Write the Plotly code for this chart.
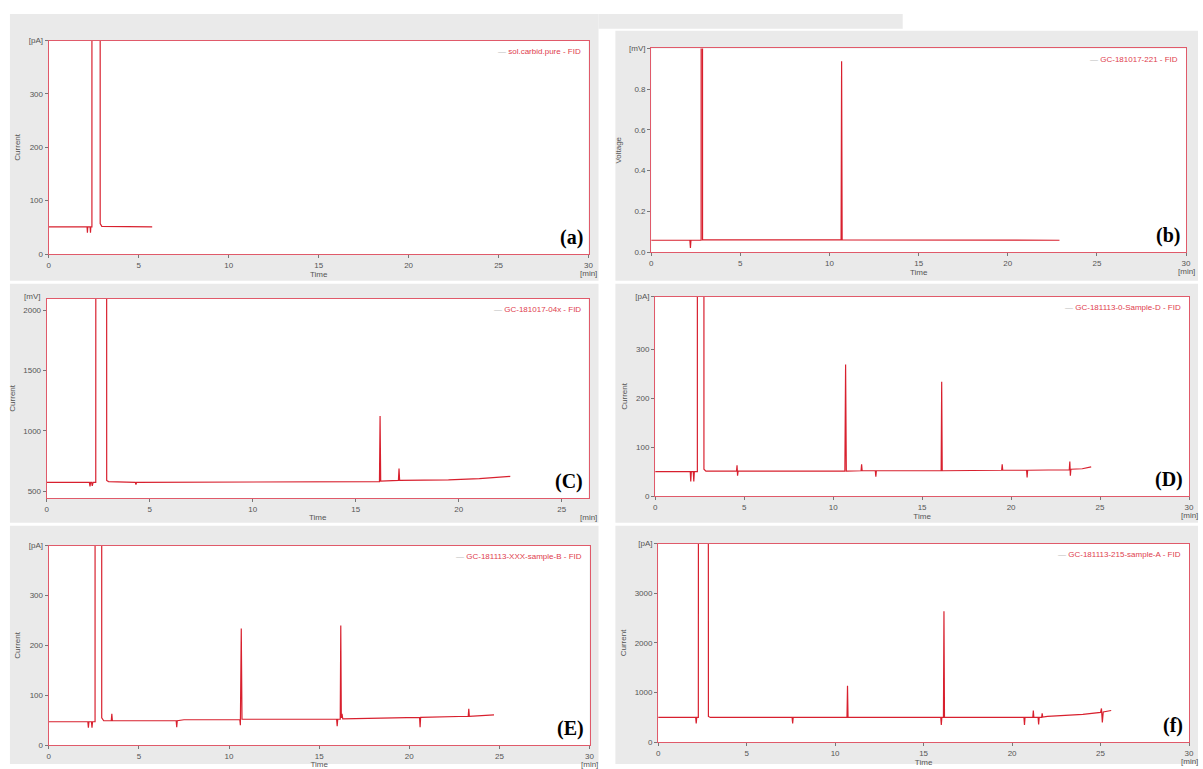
import plotly.graph_objects as go

W, H = 1203, 769

# ---------------- data ----------------
a_time = [0.0, 2.05, 2.13, 2.15, 2.17, 2.30, 2.32, 2.34, 2.40, 2.41, 2.85, 2.86, 2.95, 5.75]
a_val = [51, 51, 51, 40, 51, 51, 40, 51, 51, 5000, 5000, 57, 52, 51]

b_time = [0.0, 2.17, 2.20, 2.23, 2.80, 2.81, 2.87, 2.88, 10.65, 10.68, 10.71, 22.9]
b_val = [0.058, 0.058, 0.02, 0.058, 0.058, 5.0, 5.0, 0.06, 0.06, 0.937, 0.06, 0.058]

c_time = [0.0, 2.07, 2.10, 2.13, 2.18, 2.21, 2.25, 2.38, 2.39, 2.90, 2.91, 3.0, 4.30, 4.33, 4.36,
          14.5, 16.15, 16.18, 16.21, 17.07, 17.1, 17.13, 19.5, 21.0, 22.5]
c_val = [574, 574, 540, 574, 574, 545, 574, 574, 9000, 9000, 590, 580, 574, 555, 574,
         578, 580, 1123, 585, 590, 689, 590, 595, 605, 623]

d_time = [0.0, 1.97, 2.00, 2.03, 2.14, 2.17, 2.20, 2.37, 2.38, 2.73, 2.74, 2.85,
          4.57, 4.60, 4.63, 4.66,
          10.66, 10.70, 10.74, 11.57, 11.60, 11.63, 12.37, 12.40, 12.43, 16.07, 16.10, 16.13,
          19.47, 19.50, 19.53, 20.87, 20.90, 20.93, 23.27, 23.30, 23.33, 23.36, 24.0, 24.5]
d_val = [50, 50, 30, 50, 50, 30, 50, 50, 5000, 5000, 55, 51,
         51, 63, 42, 51,
         51, 269, 51, 52, 65, 52, 52, 40, 52, 52, 234, 52,
         53, 65, 53, 53, 38, 53, 54, 71, 42, 55, 56, 60]

e_time = [0.0, 2.17, 2.20, 2.23, 2.37, 2.40, 2.43, 2.57, 2.58, 2.93, 2.94, 3.05, 3.47, 3.50, 3.53,
          7.07, 7.10, 7.13, 7.5, 10.60, 10.63, 10.68, 10.72, 15.97, 16.00, 16.03, 16.17, 16.20,
          16.23, 16.27, 16.31, 18.5, 20.57, 20.60, 20.63, 23.27, 23.30, 23.33, 24.7]
e_val = [47, 47, 35, 47, 47, 35, 47, 47, 5000, 5000, 55, 49, 49, 63, 49,
         49, 36, 49, 51, 51, 40, 234, 52, 52, 38, 52, 52, 240, 55, 63, 53,
         55, 56, 36, 56, 58, 73, 58, 61]

f_time = [0.0, 2.12, 2.15, 2.18, 2.27, 2.28, 2.83, 2.84, 2.95, 7.57, 7.60, 7.63,
          10.67, 10.70, 10.73, 15.97, 16.00, 16.03, 16.12, 16.15, 16.18, 20.67, 20.70, 20.73,
          21.17, 21.20, 21.23, 21.47, 21.50, 21.53, 21.67, 21.70, 21.73,
          22.0, 24.0, 25.0, 25.05, 25.10, 25.15, 25.6]
f_val = [500, 500, 380, 500, 500, 9000, 9000, 520, 500, 500, 380, 500,
         500, 1140, 500, 500, 350, 500, 500, 2640, 500, 500, 350, 500,
         500, 640, 500, 500, 360, 500, 500, 580, 505,
         520, 560, 600, 680, 400, 610, 640]

panels = [
    dict(t=a_time, v=a_val, xr=[0, 30], xt=[0, 5, 10, 15, 20, 25, 30],
         yr=[0, 400], yt=[0, 100, 200, 300, 400], ytt=["0", "100", "200", "300", "[pA]"],
         ytitle="Current", name="sol.carbid.pure - FID", tag="(a)",
         box=(47, 590, 37, 253)),
    dict(t=b_time, v=b_val, xr=[0, 30], xt=[0, 5, 10, 15, 20, 25, 30],
         yr=[0, 1.0], yt=[0, 0.2, 0.4, 0.6, 0.8, 1.0], ytt=["0.0", "0.2", "0.4", "0.6", "0.8", "[mV]"],
         ytitle="Voltage", name="GC-181017-221 - FID", tag="(b)",
         box=(653, 1191, 45, 251)),
    dict(t=c_time, v=c_val, xr=[0, 26.3], xt=[0, 5, 10, 15, 20, 25],
         yr=[443, 2098], yt=[500, 1000, 1500, 2000], ytt=["500", "1000", "1500", "2000"],
         ytitle="Current", name="GC-181017-04x - FID", tag="(C)",
         box=(45, 590, 298, 500), unit="[mV]"),
    dict(t=d_time, v=d_val, xr=[0, 30], xt=[0, 5, 10, 15, 20, 25, 30],
         yr=[0, 408], yt=[0, 100, 200, 300, 408], ytt=["0", "100", "200", "300", "[pA]"],
         ytitle="Current", name="GC-181113-0-Sample-D - FID", tag="(D)",
         box=(657, 1194, 296, 498)),
    dict(t=e_time, v=e_val, xr=[0, 30], xt=[0, 5, 10, 15, 20, 25, 30],
         yr=[0, 400], yt=[0, 100, 200, 300, 400], ytt=["0", "100", "200", "300", "[pA]"],
         ytitle="Current", name="GC-181113-XXX-sample-B - FID", tag="(E)",
         box=(47, 591, 548, 750)),
    dict(t=f_time, v=f_val, xr=[0, 30], xt=[0, 5, 10, 15, 20, 25, 30],
         yr=[0, 4000], yt=[0, 1000, 2000, 3000, 4000], ytt=["0", "1000", "2000", "3000", "[pA]"],
         ytitle="Current", name="GC-181113-215-sample-A - FID", tag="(f)",
         box=(660, 1194, 546, 747)),
]

# gray panel backgrounds (pixel boxes)
bgs = [(8, 600, 10, 280), (8, 600, 283, 525), (8, 600, 528, 769),
       (600, 906, 10, 25), (617, 1203, 27, 280), (617, 1203, 283, 525), (617, 1203, 528, 769)]

RED = "#d8202e"
FRAME = "#e05a6a"
TXT = "#555555"

fig = go.Figure()
layout = dict(width=W, height=H, margin=dict(l=0, r=0, t=0, b=0),
              paper_bgcolor="white", plot_bgcolor="white", showlegend=False,
              font=dict(family="Liberation Sans, Arial, sans-serif", size=8, color=TXT))
shapes = []
for (x0, x1, y0, y1) in bgs:
    shapes.append(dict(type="rect", xref="paper", yref="paper", layer="below",
                       x0=x0 / W, x1=x1 / W, y0=1 - y1 / H, y1=1 - y0 / H,
                       fillcolor="#eaeaea", line=dict(width=0)))
for p in panels:
    x0, x1, y0, y1 = p["box"]
    shapes.append(dict(type="rect", xref="paper", yref="paper", layer="below",
                       x0=x0 / W, x1=x1 / W, y0=1 - y1 / H, y1=1 - y0 / H,
                       fillcolor="white", line=dict(width=0)))
annotations = []

for i, p in enumerate(panels, start=1):
    sx = "" if i == 1 else str(i)
    x0, x1, y0, y1 = p["box"]
    fig.add_trace(go.Scatter(x=p["t"], y=p["v"], mode="lines", xaxis="x" + sx, yaxis="y" + sx,
                             line=dict(color=RED, width=1.2), name=p["name"]))
    layout["xaxis" + sx] = dict(domain=[x0 / W, x1 / W], anchor="y" + sx, range=p["xr"],
                                tickvals=p["xt"], showline=True, mirror=True, linecolor=FRAME,
                                linewidth=1.2, showgrid=False, zeroline=False, ticks="outside",
                                ticklen=3, tickcolor="#777", tickfont=dict(size=8, color=TXT),
                                title=dict(text="Time", font=dict(size=8, color=TXT), standoff=1))
    layout["yaxis" + sx] = dict(domain=[1 - y1 / H, 1 - y0 / H], anchor="x" + sx, range=p["yr"],
                                tickvals=p["yt"], ticktext=p["ytt"], showline=True, mirror=True,
                                linecolor=FRAME, linewidth=1.2, showgrid=False, zeroline=False,
                                ticks="outside", ticklen=3, tickcolor="#777",
                                tickfont=dict(size=8, color=TXT),
                                title=dict(text=p["ytitle"], font=dict(size=8, color=TXT), standoff=6))
    # time unit under the right end of the x axis
    annotations.append(dict(xref="paper", yref="paper", x=x1 / W, y=1 - (y1 + 13) / H,
                            text="[min]", showarrow=False, xanchor="center", yanchor="top",
                            font=dict(size=8, color=TXT)))
    if "unit" in p:
        annotations.append(dict(xref="paper", yref="paper", x=(x0 - 5) / W, y=1 - (y0 - 2) / H,
                                text=p["unit"], showarrow=False, xanchor="right", yanchor="middle",
                                font=dict(size=8, color=TXT)))
    # legend entry at top right
    annotations.append(dict(xref="paper", yref="paper", x=(x1 - 6) / W, y=1 - (y0 + 11) / H,
                            text="<span style='color:#bbbbbb'>—</span> " + p["name"],
                            showarrow=False, xanchor="right", yanchor="middle",
                            font=dict(size=8, color="#e0404e")))
    # panel tag
    annotations.append(dict(xref="paper", yref="paper", x=(x1 - 4) / W, y=1 - (y1 - 17) / H,
                            text="<b>" + p["tag"] + "</b>", showarrow=False, xanchor="right",
                            yanchor="middle",
                            font=dict(size=20, color="black",
                                      family="Liberation Serif, Times New Roman, serif")))

layout["shapes"] = shapes
layout["annotations"] = annotations
fig.update_layout(**layout)
fig.write_html("out.html")
